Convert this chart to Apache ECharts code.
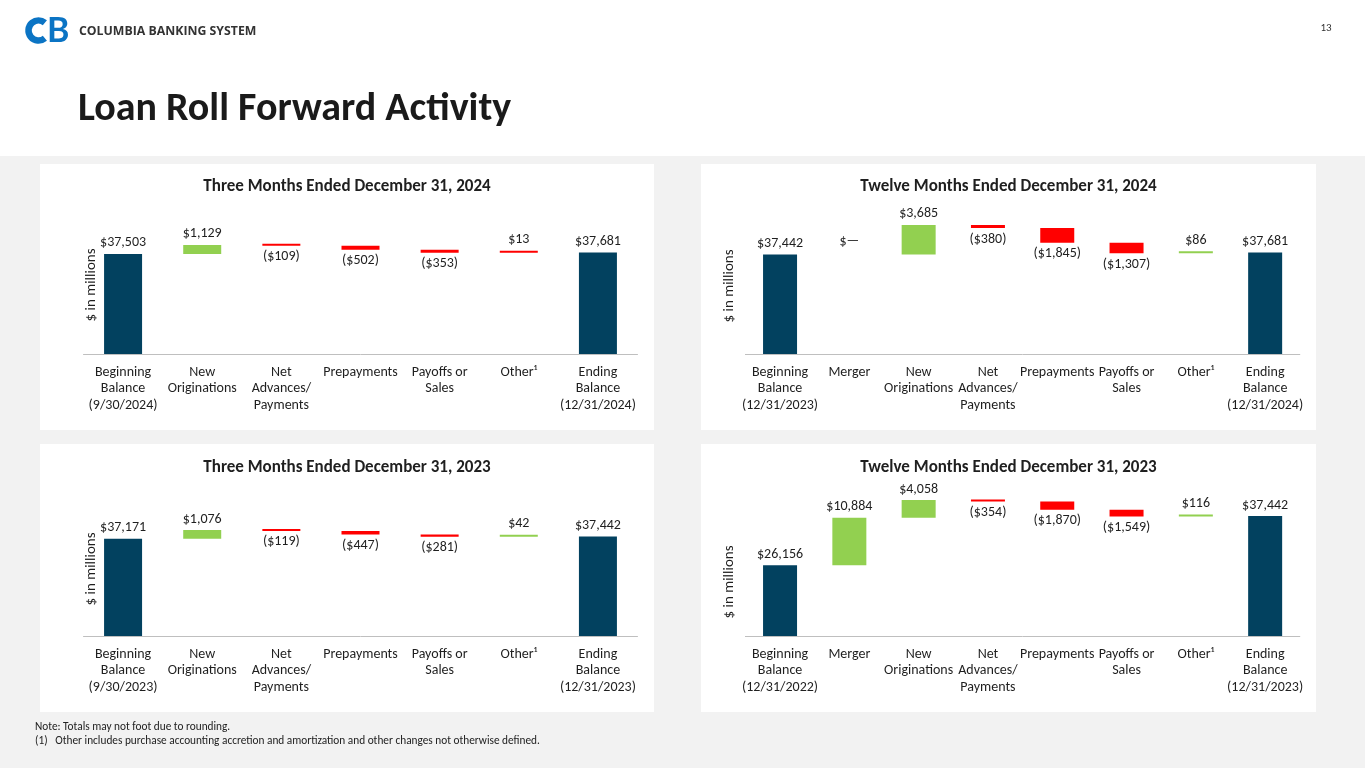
<!DOCTYPE html>
<html><head><meta charset="utf-8">
<script src="https://cdn.jsdelivr.net/npm/echarts@6/dist/echarts.min.js"></script>
<style>html,body{margin:0;padding:0;background:#fff}#c{width:1365px;height:768px}</style>
</head><body><div id="c"></div>
<script>
// ---------- DATA ----------
const catsQ4_2024 = ["Beginning\nBalance\n(9/30/2024)", "New\nOriginations", "Net\nAdvances/\nPayments", "Prepayments", "Payoffs or\nSales", "Other\u00b9", "Ending\nBalance\n(12/31/2024)"];
const startQ4_2024 = 37503;
const changesQ4_2024 = [1129, -109, -502, -353, 13];
const endQ4_2024 = 37681;

const catsFY2024 = ["Beginning\nBalance\n(12/31/2023)", "Merger", "New\nOriginations", "Net\nAdvances/\nPayments", "Prepayments", "Payoffs or\nSales", "Other\u00b9", "Ending\nBalance\n(12/31/2024)"];
const startFY2024 = 37442;
const changesFY2024 = [0, 3685, -380, -1845, -1307, 86];
const endFY2024 = 37681;

const catsQ4_2023 = ["Beginning\nBalance\n(9/30/2023)", "New\nOriginations", "Net\nAdvances/\nPayments", "Prepayments", "Payoffs or\nSales", "Other\u00b9", "Ending\nBalance\n(12/31/2023)"];
const startQ4_2023 = 37171;
const changesQ4_2023 = [1076, -119, -447, -281, 42];
const endQ4_2023 = 37442;

const catsFY2023 = ["Beginning\nBalance\n(12/31/2022)", "Merger", "New\nOriginations", "Net\nAdvances/\nPayments", "Prepayments", "Payoffs or\nSales", "Other\u00b9", "Ending\nBalance\n(12/31/2023)"];
const startFY2023 = 26156;
const changesFY2023 = [10884, 4058, -354, -1870, -1549, 116];
const endFY2023 = 37442;

// ---------- STYLE / LAYOUT ----------
const FONT = "Carlito, Lato, sans-serif";
const NAVY = "#02415F", GREEN = "#92D050", RED = "#FF0000", TXT = "#1f1f1f";

const charts = [
  {title: "Three Months Ended December 31, 2024", cats: catsQ4_2024, start: startQ4_2024, changes: changesQ4_2024, end: endQ4_2024,
   grid: {left: 83.5, top: 218, width: 554, height: 136}, min: 25000, max: 42000, barWidth: 38, forceRed: [4],
   panel: [40, 164, 614, 266], titleY: 187, yName: [91, 285]},
  {title: "Twelve Months Ended December 31, 2024", cats: catsFY2024, start: startFY2024, changes: changesFY2024, end: endFY2024,
   grid: {left: 745.4, top: 218, width: 554.4, height: 136}, min: 25000, max: 42000, barWidth: 34, forceRed: [],
   panel: [701, 164, 615, 266], titleY: 187, yName: [729, 286]},
  {title: "Three Months Ended December 31, 2023", cats: catsQ4_2023, start: startQ4_2023, changes: changesQ4_2023, end: endQ4_2023,
   grid: {left: 83.5, top: 500, width: 554, height: 136}, min: 25000, max: 42000, barWidth: 38, forceRed: [],
   panel: [40, 444, 614, 268], titleY: 468, yName: [91, 569]},
  {title: "Twelve Months Ended December 31, 2023", cats: catsFY2023, start: startFY2023, changes: changesFY2023, end: endFY2023,
   grid: {left: 745.4, top: 496.1, width: 554.4, height: 139.9}, min: 10000, max: 42000, barWidth: 34, forceRed: [],
   panel: [701, 444, 615, 268], titleY: 468, yName: [729, 582]}
];

function fmt(v) {
  if (v === 0) return "$\u2014";
  const s = Math.abs(v).toLocaleString("en-US");
  return v < 0 ? "($" + s + ")" : "$" + s;
}

const grids = [], xAxes = [], yAxes = [], series = [], graphics = [];

graphics.push({type: "rect", z: -10, shape: {x: 0, y: 156, width: 1365, height: 612}, style: {fill: "#F2F2F2"}});

charts.forEach((c, i) => {
  const p = c.panel;
  graphics.push({type: "rect", z: -9, shape: {x: p[0], y: p[1], width: p[2], height: p[3]}, style: {fill: "#FFFFFF"}});
  graphics.push({type: "text", z: 5, x: p[0] + p[2] / 2, y: c.titleY,
    style: {text: c.title, fontSize: 17, fontWeight: "bold", fontFamily: FONT, fill: TXT,
      textAlign: "center", align: "center", textVerticalAlign: "middle", verticalAlign: "middle"}});
  graphics.push({type: "text", z: 5, x: c.yName[0], y: c.yName[1], rotation: Math.PI / 2,
    style: {text: "$ in millions", fontSize: 15, fontFamily: FONT, fill: TXT,
      textAlign: "center", align: "center", textVerticalAlign: "middle", verticalAlign: "middle"}});

  grids.push(Object.assign({containLabel: false}, c.grid));
  xAxes.push({type: "category", gridIndex: i, data: c.cats,
    axisLine: {onZero: false, lineStyle: {color: "#BFBFBF", width: 1}}, axisTick: {show: false},
    axisLabel: {interval: 0, fontSize: 14, lineHeight: 16.5, color: TXT, margin: 10, fontFamily: FONT}});
  yAxes.push({type: "value", gridIndex: i, min: c.min, max: c.max, show: false, splitLine: {show: false}});

  const n = c.cats.length;
  const total = new Array(n).fill("-");
  const base = new Array(n).fill("-");
  const delta = new Array(n).fill("-");
  total[0] = {value: c.start, label: {formatter: fmt(c.start)}};
  total[n - 1] = {value: c.end, label: {formatter: fmt(c.end)}};
  let run = c.start;
  c.changes.forEach((v, k) => {
    const after = run + v;
    base[k + 1] = Math.min(run, after);
    let color = v > 0 ? GREEN : (v < 0 ? RED : "transparent");
    if (c.forceRed.indexOf(k) >= 0) color = RED;
    delta[k + 1] = {value: Math.abs(v), itemStyle: {color: color},
      label: {position: v < 0 ? "bottom" : "top", formatter: fmt(v)}};
    run = after;
  });

  const lbl = {show: true, fontSize: 14, color: TXT, fontFamily: FONT, distance: 4};
  series.push({type: "bar", name: "total" + i, xAxisIndex: i, yAxisIndex: i, data: total, barWidth: c.barWidth,
    barGap: "-100%", itemStyle: {color: NAVY}, label: Object.assign({position: "top"}, lbl), silent: true});
  series.push({type: "bar", name: "base" + i, xAxisIndex: i, yAxisIndex: i, data: base, stack: "w" + i, barWidth: c.barWidth,
    barGap: "-100%", itemStyle: {color: "transparent"}, silent: true});
  series.push({type: "bar", name: "delta" + i, xAxisIndex: i, yAxisIndex: i, data: delta, stack: "w" + i, barWidth: c.barWidth,
    barGap: "-100%", barMinHeight: 2, label: lbl, silent: true});
});

// header
graphics.push({type: "arc", shape: {cx: 38.5, cy: 30.5, r: 10, startAngle: Math.PI * 0.28, endAngle: Math.PI * 1.72, clockwise: true},
  style: {stroke: "#0B74C4", lineWidth: 6.5, fill: null}});
graphics.push({type: "text", x: 47, y: 31, style: {text: "B", fontSize: 34, fontWeight: "bold", fontFamily: "Lato, sans-serif", fill: "#0B74C4",
  textAlign: "left", align: "left", textVerticalAlign: "middle", verticalAlign: "middle"}});
graphics.push({type: "text", x: 79, y: 31, style: {text: "COLUMBIA BANKING SYSTEM", fontSize: 12.3, fontWeight: "bold", fontFamily: "'Open Sans', sans-serif", fill: "#333333",
  textAlign: "left", align: "left", textVerticalAlign: "middle", verticalAlign: "middle"}});
graphics.push({type: "text", x: 1326, y: 28, style: {text: "13", fontSize: 11, fontFamily: FONT, fill: "#333333",
  textAlign: "center", align: "center", textVerticalAlign: "middle", verticalAlign: "middle"}});
graphics.push({type: "text", x: 78, y: 110, style: {text: "Loan Roll Forward Activity", fontSize: 40, fontWeight: "bold", fontFamily: FONT, fill: "#1a1a1a",
  textAlign: "left", align: "left", textVerticalAlign: "middle", verticalAlign: "middle"}});
graphics.push({type: "text", x: 35, y: 727, style: {text: "Note: Totals may not foot due to rounding.", fontSize: 11.3, fontFamily: FONT, fill: "#222222",
  textAlign: "left", align: "left", textVerticalAlign: "middle", verticalAlign: "middle"}});
graphics.push({type: "text", x: 35, y: 741, style: {text: "(1)   Other includes purchase accounting accretion and amortization and other changes not otherwise defined.", fontSize: 11.3, fontFamily: FONT, fill: "#222222",
  textAlign: "left", align: "left", textVerticalAlign: "middle", verticalAlign: "middle"}});

const chart = echarts.init(document.getElementById("c"));
chart.setOption({
  animation: false,
  backgroundColor: "#FFFFFF",
  grid: grids, xAxis: xAxes, yAxis: yAxes, series: series,
  graphic: {elements: graphics}
});
</script></body></html>
